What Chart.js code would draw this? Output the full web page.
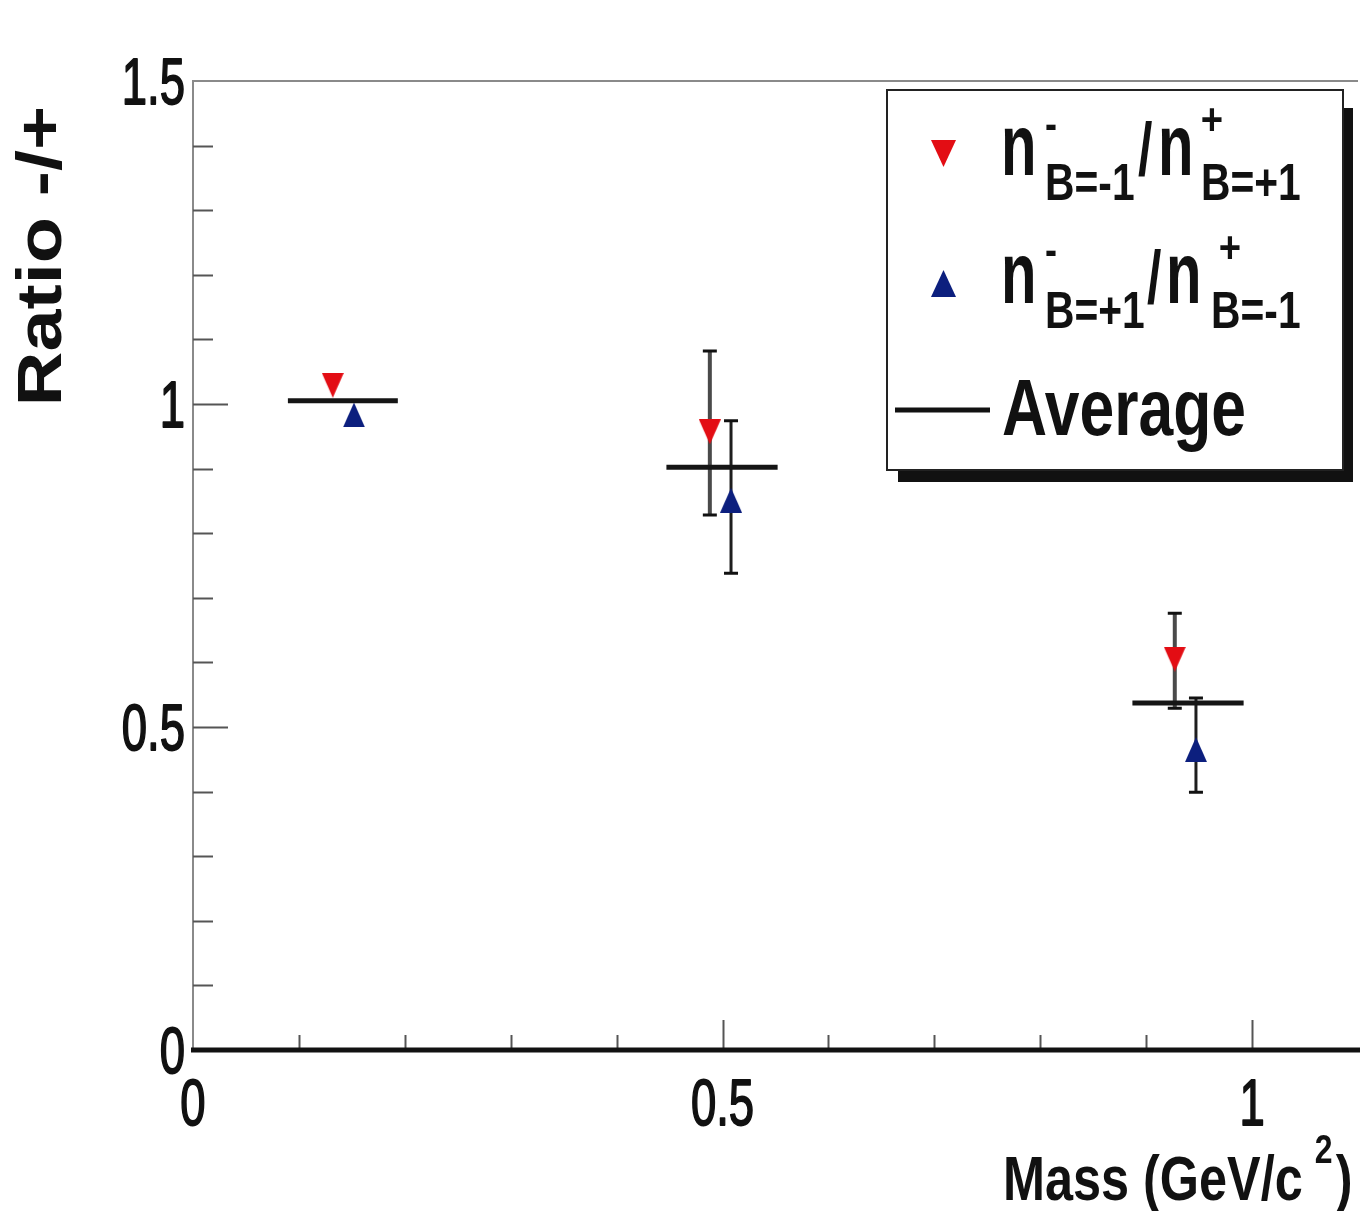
<!DOCTYPE html>
<html><head><meta charset="utf-8">
<script src="https://cdn.jsdelivr.net/npm/chart.js@4.4.1/dist/chart.umd.min.js"></script>
<style>html,body{margin:0;padding:0;background:#fff;}#wrap{position:relative;width:1364px;height:1211px;}</style>
</head><body><div id="wrap"><canvas id="c" width="1364" height="1211"></canvas></div>
<script>
// ---- data ----
const massRed   = [0.132, 0.488, 0.927];
const ratioRed  = [1.029, 0.957, 0.605];
const errRedLo  = [null, 0.828, 0.529];
const errRedHi  = [null, 1.082, 0.676];

const massBlue  = [0.152, 0.508, 0.947];
const ratioBlue = [0.983, 0.851, 0.465];
const errBlueLo = [null, 0.738, 0.399];
const errBlueHi = [null, 0.974, 0.545];

const avgLo = [0.0896, 0.447, 0.887];
const avgHi = [0.1934, 0.552, 0.992];
const avgY  = [1.005, 0.902, 0.537];

const xTickVals = [0, 0.5, 1];
const xTickLabels = ['0', '0.5', '1'];
const yTickVals = [0, 0.5, 1, 1.5];
const yTickLabels = ['0', '0.5', '1', '1.5'];

const RED = '#e30d14';
const BLUE = '#0c1f7e';
const FONT = '"Liberation Sans", Arial, Helvetica, sans-serif';

function triImg(color, w, h, down) {
  const c = document.createElement('canvas');
  c.width = w; c.height = h;
  const g = c.getContext('2d');
  g.fillStyle = color;
  g.beginPath();
  if (down) { g.moveTo(0, 0); g.lineTo(w, 0); g.lineTo(w / 2, h); }
  else { g.moveTo(w / 2, 0); g.lineTo(w, h); g.lineTo(0, h); }
  g.closePath(); g.fill();
  return c;
}

function txt(ctx, s, x, y, size, sx, weight, align, extra) {
  ctx.save();
  ctx.translate(x, y);
  ctx.scale(sx, 1);
  ctx.font = `${weight} ${size}px ${FONT}`;
  ctx.textAlign = align || 'left';
  ctx.textBaseline = 'alphabetic';
  ctx.fillStyle = '#111';
  ctx.fillText(s, 0, 0);
  if (extra) { ctx.strokeStyle = '#111'; ctx.lineWidth = extra; ctx.lineJoin = 'round'; ctx.strokeText(s, 0, 0); }
  ctx.restore();
}

const errPlugin = {
  id: 'errbars',
  beforeDatasetsDraw(chart) {
    const { ctx, scales: { x, y } } = chart;
    const sets = [
      { m: massRed, lo: errRedLo, hi: errRedHi, col: '#4a4a4a', lw: 4 },
      { m: massBlue, lo: errBlueLo, hi: errBlueHi, col: '#1e1e1e', lw: 3 }
    ];
    ctx.save();
    for (const s of sets) {
      for (let i = 0; i < s.m.length; i++) {
        if (s.lo[i] == null) continue;
        const px = x.getPixelForValue(s.m[i]);
        const y1 = y.getPixelForValue(s.lo[i]);
        const y2 = y.getPixelForValue(s.hi[i]);
        ctx.strokeStyle = s.col; ctx.lineWidth = s.lw;
        ctx.beginPath(); ctx.moveTo(px, y1); ctx.lineTo(px, y2); ctx.stroke();
        ctx.strokeStyle = '#111'; ctx.lineWidth = 3;
        ctx.beginPath();
        ctx.moveTo(px - 7, y1); ctx.lineTo(px + 7, y1);
        ctx.moveTo(px - 7, y2); ctx.lineTo(px + 7, y2);
        ctx.stroke();
      }
    }
    ctx.restore();
  },
  afterDatasetsDraw(chart) {
    const { ctx, scales: { x, y } } = chart;
    ctx.save();
    ctx.strokeStyle = '#151515'; ctx.lineWidth = 5;
    for (let i = 0; i < avgY.length; i++) {
      const py = y.getPixelForValue(avgY[i]);
      ctx.beginPath();
      ctx.moveTo(x.getPixelForValue(avgLo[i]), py);
      ctx.lineTo(x.getPixelForValue(avgHi[i]), py);
      ctx.stroke();
    }
    ctx.restore();
  },
  afterDraw(chart) {
    const { ctx, chartArea: a, scales: { x, y } } = chart;
    ctx.save();
    // frame
    ctx.strokeStyle = '#8a8a8a'; ctx.lineWidth = 2;
    ctx.beginPath(); ctx.moveTo(a.left, a.bottom); ctx.lineTo(a.left, a.top); ctx.lineTo(a.right, a.top); ctx.stroke();
    // y ticks
    ctx.strokeStyle = '#555'; ctx.lineWidth = 2;
    for (let k = 1; k < 15; k++) {
      const v = k / 10;
      const py = Math.round(y.getPixelForValue(v)) + 0.5;
      const len = (k % 5 === 0) ? 35 : 20;
      ctx.beginPath(); ctx.moveTo(a.left, py); ctx.lineTo(a.left + len, py); ctx.stroke();
    }
    // x ticks
    for (let k = 1; k <= 10; k++) {
      const v = k / 10;
      const px = Math.round(x.getPixelForValue(v)) + 0.5;
      const len = (k % 5 === 0) ? 30 : 15;
      ctx.beginPath(); ctx.moveTo(px, a.bottom); ctx.lineTo(px, a.bottom - len); ctx.stroke();
    }
    // bottom axis thick
    ctx.strokeStyle = '#111'; ctx.lineWidth = 5;
    ctx.beginPath(); ctx.moveTo(a.left - 2, a.bottom); ctx.lineTo(a.right + 2, a.bottom); ctx.stroke();
    // tick labels
    for (let i = 0; i < yTickVals.length; i++) {
      txt(ctx, yTickLabels[i], 185, y.getPixelForValue(yTickVals[i]) + 23, 64, 0.71, 'normal', 'right', 1.8);
    }
    for (let i = 0; i < xTickVals.length; i++) {
      txt(ctx, xTickLabels[i], x.getPixelForValue(xTickVals[i]), 1125, 64, 0.71, 'normal', 'center', 1.8);
    }
    // axis titles
    ctx.save();
    ctx.translate(61, 256); ctx.rotate(-Math.PI / 2); ctx.scale(1.2, 1);
    ctx.font = `bold 63px ${FONT}`; ctx.textAlign = 'center'; ctx.textBaseline = 'alphabetic';
    ctx.fillStyle = '#111'; ctx.fillText('Ratio -/+', 0, 0);
    ctx.restore();
    ctx.font = `bold 63px ${FONT}`;
    const mw = ctx.measureText('Mass (GeV/c').width * 0.8;
    txt(ctx, 'Mass (GeV/c', 1003, 1200, 63, 0.8, 'bold', 'left');
    txt(ctx, '2', 1003 + mw + 12, 1163, 40, 0.8, 'bold', 'left');
    txt(ctx, ')', 1003 + mw + 33, 1200, 63, 0.8, 'bold', 'left');

    // legend shadow + box
    ctx.fillStyle = '#111';
    ctx.fillRect(1343, 108, 10, 374);
    ctx.fillRect(898, 470, 455, 12);
    ctx.fillStyle = '#fff';
    ctx.fillRect(887, 90, 456, 380);
    ctx.strokeStyle = '#222'; ctx.lineWidth = 2;
    ctx.strokeRect(887, 90, 456, 380);
    // legend markers
    ctx.drawImage(triImg(RED, 25, 27, true), 931, 140);
    ctx.drawImage(triImg(BLUE, 25, 27, false), 931, 270);
    ctx.strokeStyle = '#111'; ctx.lineWidth = 5;
    ctx.beginPath(); ctx.moveTo(895, 410); ctx.lineTo(990, 410); ctx.stroke();
    // legend texts row 1
    txt(ctx, 'n', 1001, 175, 88, 0.66, 'bold', 'left');
    txt(ctx, '-', 1045, 139, 45, 0.8, 'bold', 'left');
    txt(ctx, 'B=-1', 1045, 200, 51, 0.8, 'bold', 'left');
    txt(ctx, '/', 1138, 175, 74, 0.7, 'bold', 'left');
    txt(ctx, 'n', 1158, 175, 88, 0.66, 'bold', 'left');
    txt(ctx, '+', 1212, 135, 45, 0.85, 'bold', 'center');
    txt(ctx, 'B=+1', 1201, 200, 51, 0.8, 'bold', 'left');
    // row 2
    txt(ctx, 'n', 1001, 303, 88, 0.66, 'bold', 'left');
    txt(ctx, '-', 1045, 265, 45, 0.8, 'bold', 'left');
    txt(ctx, 'B=+1', 1045, 328, 51, 0.8, 'bold', 'left');
    txt(ctx, '/', 1147, 303, 74, 0.7, 'bold', 'left');
    txt(ctx, 'n', 1166, 303, 88, 0.66, 'bold', 'left');
    txt(ctx, '+', 1230, 263, 45, 0.85, 'bold', 'center');
    txt(ctx, 'B=-1', 1211, 328, 51, 0.8, 'bold', 'left');
    // row 3
    txt(ctx, 'Average', 1002, 435, 80, 0.78, 'bold', 'left');
    ctx.restore();
  }
};

const toPts = (xs, ys) => xs.map((v, i) => ({ x: v, y: ys[i] }));

new Chart(document.getElementById('c'), {
  type: 'scatter',
  data: {
    datasets: [
      { label: 'red', data: toPts(massRed, ratioRed), pointStyle: triImg(RED, 22, 25, true), pointRadius: 12, backgroundColor: RED, borderColor: RED },
      { label: 'blue', data: toPts(massBlue, ratioBlue), pointStyle: triImg(BLUE, 22, 25, false), pointRadius: 12, backgroundColor: BLUE, borderColor: BLUE }
    ]
  },
  options: {
    responsive: false,
    animation: false,
    devicePixelRatio: 1,
    layout: { autoPadding: false, padding: { left: 193, top: 81, right: 6, bottom: 161 } },
    plugins: { legend: { display: false }, tooltip: { enabled: false } },
    scales: {
      x: { type: 'linear', min: 0, max: 1.1, display: false },
      y: { type: 'linear', min: 0, max: 1.5, display: false }
    }
  },
  plugins: [errPlugin]
});
</script></body></html>
